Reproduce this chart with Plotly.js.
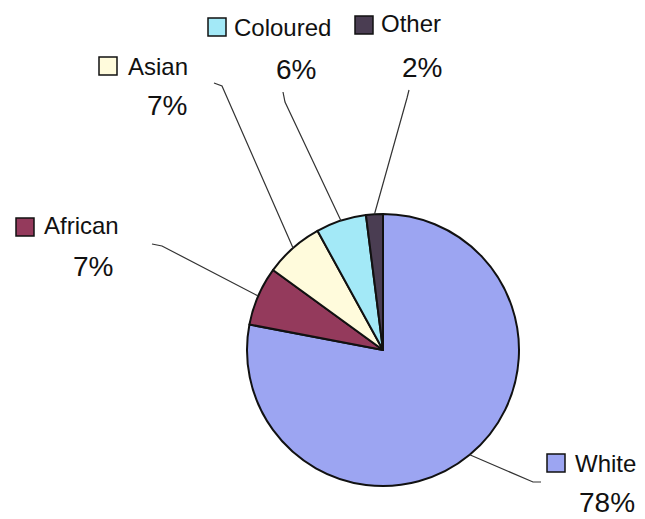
<!DOCTYPE html>
<html>
<head>
<meta charset="utf-8">
<script src="https://cdn.plot.ly/plotly-3.0.1.min.js"></script>
<style>html,body{margin:0;padding:0;background:#fff;}#chart{width:645px;height:519px;}</style>
</head>
<body>
<div id="chart"></div>
<script>
// ---- data ----
const categories = ["White", "African", "Asian", "Coloured", "Other"];
const shares = [78, 7, 7, 6, 2];
const pctLabels = ["78%", "7%", "7%", "6%", "2%"];
const colors = ["#9ca5f2", "#943a5c", "#fffbdc", "#a3e9f7", "#4a3d52"];

// ---- layout constants (pixels) ----
const W = 645, H = 519;
const cx = 383, cy = 350, R = 136;
const px = x => x / W;
const py = y => 1 - y / H;

// label placement per category (layout only)
const labelPos = {
  White:    {sq: [547, 454], name: [573, 463], pct: [607, 502], knee: [533, 482], tip: [541, 482]},
  African:  {sq: [16, 218],  name: [42, 226],  pct: [93, 266],  knee: [162, 246], tip: [152, 244]},
  Asian:    {sq: [99, 57],   name: [126, 66],  pct: [167, 106], knee: [222, 86],  tip: [214, 83]},
  Coloured: {sq: [208, 18],  name: [232, 27],  pct: [296, 69],  knee: [285, 102], tip: [283, 92]},
  Other:    {sq: [355, 16],  name: [379, 24],  pct: [422, 67],  knee: [407, 98],  tip: [409, 90]}
};
const SQ = 18;

const total = shares.reduce((a, b) => a + b, 0);
const shapes = [];
const annotations = [];
let cum = 0;
categories.forEach((cat, i) => {
  const mid = (cum + shares[i] / 2) / total * 2 * Math.PI;
  cum += shares[i];
  const ex = cx + R * Math.sin(mid), ey = cy - R * Math.cos(mid);
  const L = labelPos[cat];
  shapes.push({
    type: "path", xref: "paper", yref: "paper",
    path: `M ${px(ex)} ${py(ey)} L ${px(L.knee[0])} ${py(L.knee[1])} L ${px(L.tip[0])} ${py(L.tip[1])}`,
    line: {color: "#333", width: 1.2}
  });
  shapes.push({
    type: "rect", xref: "paper", yref: "paper",
    x0: px(L.sq[0]), x1: px(L.sq[0] + SQ), y0: py(L.sq[1] + SQ), y1: py(L.sq[1]),
    fillcolor: colors[i], line: {color: "#111", width: 1.5}
  });
  annotations.push({
    xref: "paper", yref: "paper", x: px(L.name[0]), y: py(L.name[1]),
    xanchor: "left", yanchor: "middle", showarrow: false, text: cat,
    font: {family: "Liberation Sans, Arial, sans-serif", size: 24, color: "#111"}
  });
  annotations.push({
    xref: "paper", yref: "paper", x: px(L.pct[0]), y: py(L.pct[1]),
    xanchor: "center", yanchor: "middle", showarrow: false, text: pctLabels[i],
    font: {family: "Liberation Sans, Arial, sans-serif", size: 28, color: "#111"}
  });
});

const trace = {
  type: "pie",
  labels: categories,
  values: shares,
  sort: false,
  direction: "clockwise",
  rotation: 0,
  textinfo: "none",
  hoverinfo: "label+percent",
  marker: {colors: colors, line: {color: "#111", width: 2}},
  domain: {x: [px(cx - R), px(cx + R)], y: [py(cy + R), py(cy - R)]},
  showlegend: false
};

Plotly.newPlot("chart", [trace], {
  width: W, height: H,
  margin: {l: 0, r: 0, t: 0, b: 0},
  paper_bgcolor: "#fff",
  showlegend: false,
  shapes: shapes,
  annotations: annotations
}, {displayModeBar: false, staticPlot: true});
</script>
</body>
</html>
